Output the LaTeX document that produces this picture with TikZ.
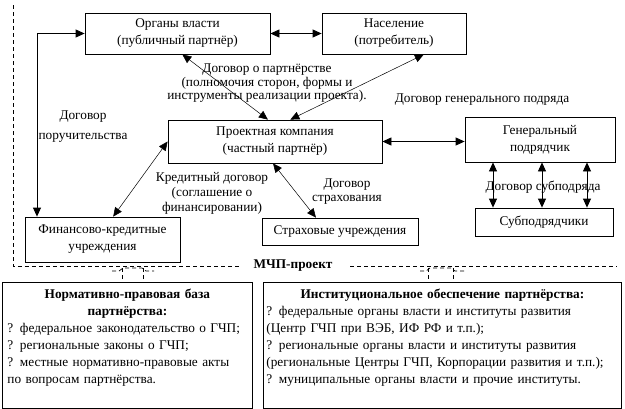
\documentclass[tikz,border=0pt]{standalone}
\usepackage{fontspec}
\setmainfont{Liberation Serif}
\usetikzlibrary{arrows.meta}

\tikzset{
	box/.style={draw, line width=0.8pt, align=center, inner sep=0pt},
	lbl/.style={align=center, inner sep=0pt},
	link/.style={line width=0.8pt, {Triangle[length=9pt,width=8pt]}-{Triangle[length=9pt,width=8pt]}},
	thinlink/.style={line width=0.5pt, {Triangle[length=9pt,width=8pt]}-{Triangle[length=9pt,width=8pt]}},
	frame/.style={line width=0.7pt, dash pattern=on 4pt off 3pt},
	infobox/.style={draw, line width=0.8pt, inner ysep=7pt, anchor=north west}
}

\begin{document}
\begin{tikzpicture}[x=1pt, y=-1pt, font=\fontsize{13.3}{17}\selectfont]
	\useasboundingbox (0,0) rectangle (625,408);

	%project frame
	\draw[frame] (13,5) -- (13,266) -- (240,266);
	\draw[frame] (350,266) -- (617,266);
	\node[lbl, font=\fontsize{13.3}{17}\selectfont\bfseries] (mchp) at (293,266) {МЧП-проект};

	%boxes
	\node[box, minimum width=185pt, minimum height=41pt] (organy) at (177.5,33.5) {Органы власти\\(публичный партнёр)};
	\node[box, minimum width=144pt, minimum height=41pt] (naselenie) at (394,33.5) {Население\\(потребитель)};
	\node[box, minimum width=214pt, minimum height=43pt] (proekt) at (275,141.5) {Проектная компания\\(частный партнёр)};
	\node[box, minimum width=150pt, minimum height=45pt] (genpodr) at (540,139.5) {Генеральный\\подрядчик};
	\node[box, minimum width=138pt, minimum height=28pt] (subpodr) at (544,222) {Субподрядчики};
	\node[box, minimum width=156pt, minimum height=27pt] (strah) at (340,231.5) {Страховые учреждения};
	\node[box, minimum width=155pt, minimum height=45pt] (fin) at (102.5,239.5) {Финансово-кредитные\\учреждения};

	%bottom boxes
	\node[infobox, text width=240pt, inner xsep=5pt] (norm) at (2,282) {%
		{\centering\bfseries Нормативно-правовая база\\партнёрства:\par}
		\raggedright
		? федеральное законодательство о ГЧП;\\
		? региональные законы о ГЧП;\\
		? местные нормативно-правовые акты\\
		по вопросам партнёрства.\par\vbox to 11pt{}};
	\node[infobox, text width=352pt, inner xsep=3pt] (inst) at (263,282) {%
		{\centering\bfseries Институциональное обеспечение партнёрства:\par}
		\raggedright
		? федеральные органы власти и институты развития\\
		(Центр ГЧП при ВЭБ, ИФ РФ и т.п.);\\
		? региональные органы власти и институты развития\\
		(региональные Центры ГЧП, Корпорации развития и т.п.);\\
		? муниципальные органы власти и прочие институты.\par\vbox to 11pt{}};

	%frame to bottom boxes
	\draw[frame] (112,271) -- (119,271) -- (123,268) -- (142,268) -- (146,271) -- (154,271);
	\draw[frame] (122,268) -- (norm.north -| 122,0);
	\draw[frame] (143,268) -- (norm.north -| 143,0);
	\draw[frame] (420,271) -- (426,271) -- (430,268) -- (451,268) -- (455,271) -- (466,271);
	\draw[frame] (428,268) -- (inst.north -| 428,0);
	\draw[frame] (453,268) -- (inst.north -| 453,0);

	%arrows
	\draw[link] (organy.east) -- (naselenie.west);
	\draw[thinlink] (organy.-77) -- (proekt.108);
	\draw[thinlink] (naselenie.-35) -- (proekt.55);
	\draw[link] (organy.west) -| ([xshift=-65.5pt]fin.north);
	\draw[thinlink] (proekt.west) -- (fin.65);
	\draw[thinlink] (proekt.-95) -- (strah.150);
	\draw[link] (proekt.east) -- (proekt.east -| genpodr.west);
	\foreach \dx in {-47,2,47}
		\draw[link] ([xshift=\dx pt]genpodr.south) -- ([xshift=\dx pt]genpodr.south |- subpodr.north);

	%labels
	\node[lbl, font=\fontsize{13.3}{13.5}\selectfont] (dogpartner) at (267,83.5) {Договор о партнёрстве\\(полномочия сторон, формы и\\инструменты реализации проекта).};
	\node[lbl] (doggen) at (482,100) {Договор генерального подряда};
	\node[lbl, font=\fontsize{13.3}{20}\selectfont] (dogporuch) at (83,127) {Договор\\поручительства};
	\node[lbl, font=\fontsize{13.3}{15}\selectfont] (dogkredit) at (212,193) {Кредитный договор\\(соглашение о\\финансировании)};
	\node[lbl, font=\fontsize{13.3}{14}\selectfont] (dogstrah) at (347,192) {Договор\\страхования};
	\node[lbl] (dogsub) at (543,187) {Договор субподряда};

	%\draw[help lines, step=50] (0,0) grid (625,408);
\end{tikzpicture}
\end{document}
